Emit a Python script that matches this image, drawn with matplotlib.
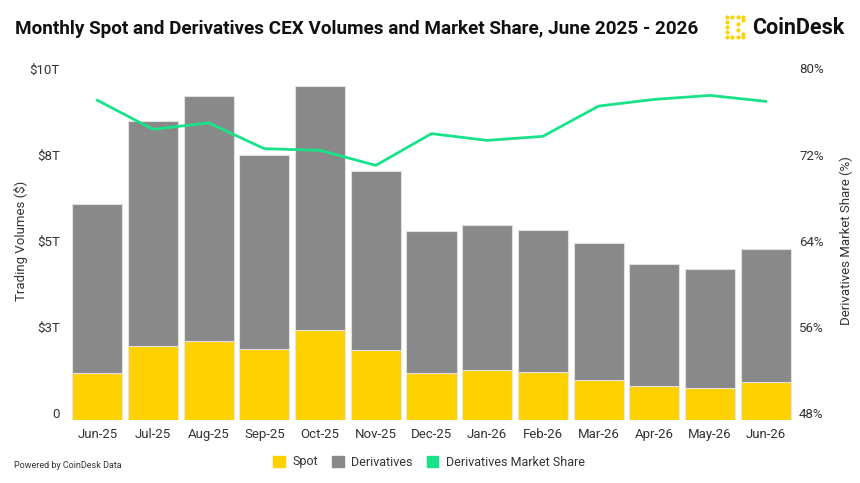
import numpy as np
import matplotlib.pyplot as plt
import matplotlib.transforms as mtransforms
from matplotlib.patches import Patch

plt.rcParams['font.family'] = ['Roboto', 'DejaVu Sans']

months = ['Jun-25', 'Jul-25', 'Aug-25', 'Sep-25', 'Oct-25', 'Nov-25', 'Dec-25',
          'Jan-26', 'Feb-26', 'Mar-26', 'Apr-26', 'May-26', 'Jun-26']
# trillions of USD
spot = [1.37, 2.14, 2.28, 2.06, 2.60, 2.03, 1.37, 1.45, 1.39, 1.16, 0.99, 0.93, 1.10]
total = [6.28, 8.67, 9.40, 7.69, 9.69, 7.24, 5.50, 5.66, 5.52, 5.14, 4.54, 4.39, 4.96]
derivatives = [t - s for t, s in zip(total, spot)]
# derivatives share of volume, %
share = [77.7, 75.0, 75.6, 73.2, 73.05, 71.65, 74.6, 73.97, 74.35, 77.16, 77.78, 78.15, 77.6]

left_ticks = [0, 2.5, 5, 7.5, 10]
left_labels = ['0', '$3T', '$5T', '$8T', '$10T']
right_ticks = [48, 56, 64, 72, 80]

SPOT_C = '#FFD100'
DERIV_C = '#898989'
LINE_C = '#19E38A'
TEXT_C = '#333333'

fig = plt.figure(figsize=(8.6, 4.83), dpi=100)
ax = fig.add_axes([69.5 / 860, 1 - 420 / 483, 724 / 860, 344.5 / 483])
x = np.arange(len(months))

ax.bar(x, spot, width=0.9, color=SPOT_C, edgecolor='#e6e6e6', linewidth=0.8, zorder=2)
ax.bar(x, derivatives, bottom=spot, width=0.9, color=DERIV_C, edgecolor='#e0e0e0',
       linewidth=0.8, zorder=2)
ax.set_xlim(-0.5, len(months) - 0.5)
ax.set_ylim(0, 10)
ax.set_yticks(left_ticks)
ax.set_yticklabels(left_labels)
ax.set_xticks(x)
ax.set_xticklabels(months)

ax2 = ax.twinx()
ax2.plot(x, share, color=LINE_C, linewidth=2, zorder=3)
ax2.set_ylim(48, 80)
ax2.set_yticks(right_ticks)
ax2.set_yticklabels([f'{v}%' for v in right_ticks])

for a in (ax, ax2):
    for s in a.spines.values():
        s.set_visible(False)
    a.tick_params(length=0, labelsize=9.5, labelcolor=TEXT_C)
ax.tick_params(axis='y', pad=7)
ax.tick_params(axis='x', pad=6)
ax2.tick_params(axis='y', pad=4)

# labels sit slightly above their tick value
shift = mtransforms.ScaledTranslation(0, 0.07, fig.dpi_scale_trans)
for lbl in ax.get_yticklabels() + ax2.get_yticklabels():
    lbl.set_transform(lbl.get_transform() + shift)

ax.set_ylabel('Trading Volumes ($)', fontsize=9.5, color=TEXT_C)
ax.yaxis.set_label_coords(-0.057, 0.52)
ax2.set_ylabel('Derivatives Market Share (%)', fontsize=9.5, color=TEXT_C)
ax2.yaxis.set_label_coords(1.063, 0.52)

fig.text(15 / 860, 1 - 29 / 483, 'Monthly Spot and Derivatives CEX Volumes and Market Share, June 2025 - 2026',
         fontsize=13.6, fontweight='bold', color='#111111', va='center', ha='left')

# logo
lax = fig.add_axes([724 / 860, 1 - 40 / 483, 22 / 860, 26 / 483])
lax.axis('off')
dots_x = [0, 1, 2, 3, 0, 0, 0, 0, 1, 2, 3, 2, 2, 3, 3]
dots_y = [4, 4, 4, 4, 3, 2, 1, 0, 0, 0, 0, 2.6, 1.4, 3.3, 0.7]
lax.scatter(dots_x, dots_y, s=9, color='#FFD100', marker='o', linewidths=0)
lax.set_xlim(-0.5, 3.5)
lax.set_ylim(-0.5, 4.5)
fig.text(752 / 860, 1 - 28 / 483, 'CoinDesk', fontsize=15.5, fontweight='bold',
         color='#111111', va='center', ha='left')

fig.text(14 / 860, 1 - 466 / 483, 'Powered by CoinDesk Data', fontsize=6.5,
         color=TEXT_C, va='center', ha='left')

handles = [Patch(color=SPOT_C, label='Spot'),
           Patch(color=DERIV_C, label='Derivatives'),
           Patch(color=LINE_C, label='Derivatives Market Share')]
fig.legend(handles=handles, loc='center', bbox_to_anchor=(429 / 860, 1 - 462 / 483),
           ncol=3, frameon=False, fontsize=9, handlelength=0.95, handleheight=0.95,
           handletextpad=0.6, columnspacing=1.1, labelcolor=TEXT_C)

fig.savefig('out.png', dpi=100)
